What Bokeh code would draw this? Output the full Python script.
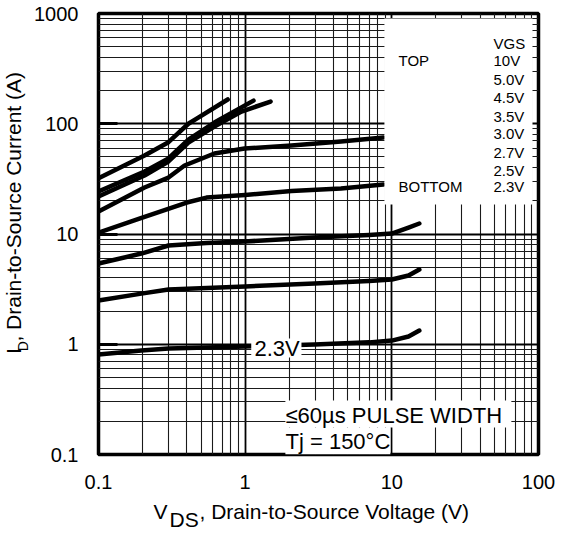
import math
from bokeh.plotting import figure
from bokeh.layouts import row, column
from bokeh.models import (FixedTicker, CustomJSTickFormatter, Label,
                          BoxAnnotation, Range1d)
from bokeh.core.properties import value
from bokeh.embed import file_html
from bokeh.resources import INLINE

# ---- data (VDS in V, ID in A) ----
vds_10v = [0.1, 0.206, 0.30, 0.41, 0.47, 0.76]
id_10v = [32.0, 51.5, 68.0, 100.0, 112.0, 166.0]

vds_5v0 = [0.1, 0.206, 0.30, 0.41, 0.617, 1.14]
id_5v0 = [24.3, 36.9, 48.4, 71.9, 102.6, 162.0]

vds_4v5 = [0.1, 0.206, 0.30, 0.41, 0.617, 0.944, 1.49]
id_4v5 = [21.9, 33.9, 45.5, 67.6, 94.4, 129.0, 159.0]

vds_3v5 = [0.1, 0.206, 0.30, 0.386, 0.617, 0.99, 2.07, 4.5, 8.76]
id_3v5 = [16.0, 26.4, 32.5, 41.8, 53.7, 59.6, 63.5, 69.0, 75.0]

vds_3v0 = [0.1, 0.19, 0.40, 0.545, 1.0, 2.07, 4.5, 8.76]
id_3v0 = [10.3, 13.8, 19.3, 21.4, 22.6, 24.5, 25.9, 28.1]

vds_2v7 = [0.1, 0.196, 0.30, 0.545, 1.0, 2.97, 7.0, 10.0, 13.0, 15.4]
id_2v7 = [5.4, 6.65, 7.87, 8.3, 8.55, 9.3, 9.8, 10.1, 11.45, 12.45]

vds_2v5 = [0.1, 0.196, 0.30, 1.0, 2.97, 7.0, 10.0, 13.0, 15.4]
id_2v5 = [2.49, 2.88, 3.14, 3.34, 3.56, 3.75, 3.87, 4.20, 4.76]

vds_2v3 = [0.1, 0.196, 0.30, 1.0, 2.97, 7.0, 10.0, 13.0, 15.4]
id_2v3 = [0.807, 0.878, 0.915, 0.955, 0.995, 1.04, 1.08, 1.176, 1.33]

curves = [(vds_10v, id_10v), (vds_5v0, id_5v0), (vds_4v5, id_4v5),
          (vds_3v5, id_3v5), (vds_3v0, id_3v0), (vds_2v7, id_2v7),
          (vds_2v5, id_2v5), (vds_2v3, id_2v3)]

vgs_labels = ["10V", "5.0V", "4.5V", "3.5V", "3.0V", "2.7V", "2.5V", "2.3V"]

x_major = [0.1, 1, 10, 100]
x_minor = [0.2, 0.3, 0.4, 0.5, 0.6, 0.7, 0.8, 0.9,
           2, 3, 4, 5, 6, 7, 8, 9,
           20, 30, 40, 50, 60, 70, 80, 90]
y_major = [0.1, 1, 10, 100, 1000]
y_minor = [0.2, 0.3, 0.4, 0.5, 0.6, 0.7, 0.8, 0.9,
           2, 3, 4, 5, 6, 7, 8, 9,
           20, 30, 40, 50, 60, 70, 80, 90,
           200, 300, 400, 500, 600, 700, 800, 900]

FONT = "Liberation Sans"

# ---------------- layout geometry (page pixels) ----------------
YT_W = 31          # width of the strip holding the y-axis title
MAIN_H = 496       # height of the main plot canvas
XT_H = 35          # height of the strip holding the x-axis title
TOTAL_W = 555

p = figure(frame_width=440, frame_height=441,
           x_axis_type="log", y_axis_type="log",
           x_range=Range1d(0.1, 100), y_range=Range1d(0.1, 1000),
           output_backend="svg", toolbar_location=None, title=None,
           min_border_left=97 - YT_W, min_border_right=18,
           min_border_top=13, min_border_bottom=MAIN_H - 13 - 441)

p.background_fill_color = "white"
p.border_fill_color = "white"
p.outline_line_color = "black"
p.outline_line_width = 3.5

xt = FixedTicker(ticks=x_major, minor_ticks=x_minor)
yt = FixedTicker(ticks=y_major, minor_ticks=y_minor)
p.xaxis.ticker = xt
p.yaxis.ticker = yt
p.xgrid.ticker = xt
p.ygrid.ticker = yt
fmt = "return String(tick)"
p.xaxis.formatter = CustomJSTickFormatter(code=fmt)
p.yaxis.formatter = CustomJSTickFormatter(code=fmt)

for ax in (p.xaxis, p.yaxis):
    ax.axis_line_color = None
    ax.minor_tick_in = 0
    ax.minor_tick_out = 0
    ax.major_label_text_font = FONT
    ax.major_label_text_font_size = "20px"
    ax.major_label_text_color = "black"
    ax.axis_label = None

p.xaxis.major_tick_in = 0
p.xaxis.major_tick_out = 0
p.xaxis.major_label_standoff = 20
p.yaxis.major_tick_in = 19
p.yaxis.major_tick_out = 0
p.yaxis.major_tick_line_width = 3
p.yaxis.major_tick_line_color = "black"
p.yaxis.major_label_standoff = 20

for g in (p.xgrid, p.ygrid):
    g.grid_line_color = "black"
    g.grid_line_width = 1.8
    g.minor_grid_line_color = "#1a1a1a"
    g.minor_grid_line_width = 1.1

for xs, ys in curves:
    p.line(xs, ys, line_color="black", line_width=4.5,
           line_cap="round", line_join="round")


def wbox(l, r, b, t):
    return BoxAnnotation(left=l, right=r, bottom=b, top=t, fill_color="white",
                         fill_alpha=1.0, line_color=None)

# white areas: legend block, note block, curve label
p.add_layout(wbox(8.9, 91, 18.5, 900))
p.add_layout(wbox(1.88, 65.3, 0.176, 0.309))
p.add_layout(wbox(1.88, 9.77, 0.1, 0.176))
p.add_layout(wbox(1.10, 2.42, 0.758, 1.128))

FX, FY = 97, 454  # frame left / bottom in page pixels


def lab(text, px, py, size):
    p.add_layout(Label(x=px - FX, y=FY - py, x_units="screen", y_units="screen",
                       text=text, text_font=FONT, text_font_size=f"{size}px",
                       text_align="left", text_baseline="middle",
                       text_color="black"))

lab("VGS", 492, 43, 15)
lab("TOP", 397, 60, 15)
lab("BOTTOM", 397, 185.5, 15)
vgs_y = [60, 79, 97, 116, 133, 152, 170, 185.5]
for t, yy in zip(vgs_labels, vgs_y):
    lab(t, 492, yy, 15)

lab("2.3V", 253, 348, 22)
lab("\u226460\u00b5s PULSE WIDTH", 284, 415, 22)
lab("Tj = 150\u00b0C", 284, 440.5, 22)


def strip(w, h):
    f = figure(width=w, height=h, x_range=Range1d(0, w), y_range=Range1d(0, h),
               output_backend="svg", toolbar_location=None, title=None,
               x_axis_location=None, y_axis_location=None,
               min_border=0, min_border_left=0, min_border_right=0,
               min_border_top=0, min_border_bottom=0)
    f.grid.visible = False
    f.outline_line_color = None
    f.background_fill_color = "white"
    f.border_fill_color = "white"
    return f

# ---- y-axis title strip (x: page px, y: MAIN_H - page py) ----
yfig = strip(YT_W, MAIN_H)
ytxt = [("I", 12.5, 383, 21), ("D", 22.5, 380, 14),
        (", Drain-to-Source Current (A)", 12.5, 369, 21)]
for t, xx, yy, sz in ytxt:
    yfig.text(x=[xx], y=[MAIN_H - yy], text=[t], angle=math.pi / 2,
              text_font=value(FONT), text_font_size=f"{sz}px",
              text_align="left", text_baseline="middle", text_color="black")

# ---- x-axis title strip (x: page px, y: page bottom - page py) ----
BOT = MAIN_H + XT_H
xfig = strip(TOTAL_W, XT_H)
xtxt = [("V", 153, 511, 21), ("DS", 169, 519, 21),
        (", Drain-to-Source Voltage (V)", 199, 511, 21)]
for t, xx, yy, sz in xtxt:
    xfig.text(x=[xx], y=[BOT - yy], text=[t],
              text_font=value(FONT), text_font_size=f"{sz}px",
              text_align="left", text_baseline="middle", text_color="black")

layout = column(row(yfig, p), xfig)
open("out.html", "w").write(file_html(layout, INLINE))
